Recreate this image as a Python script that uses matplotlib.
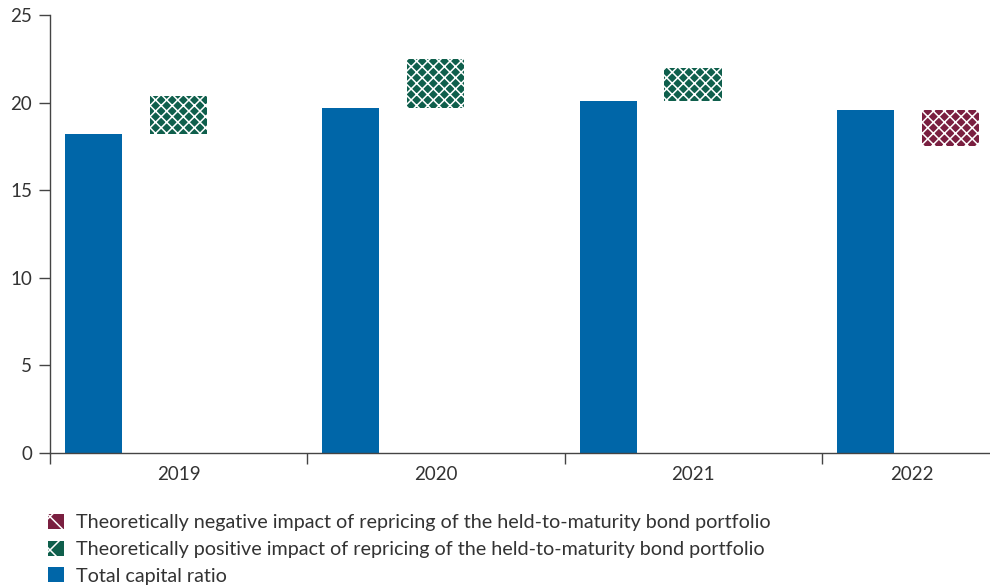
import matplotlib.pyplot as plt
from matplotlib.patches import Patch
import numpy as np

years = ['2019', '2020', '2021', '2022']
total_ratio = [18.2, 19.7, 20.1, 19.6]
positive_impact = [2.2, 2.8, 1.9, 0.0]
negative_impact = [0.0, 0.0, 0.0, 2.1]

blue = '#0066a8'
green = '#0f5f4c'
maroon = '#7a1f40'
text_col = '#333333'

plt.rcParams['font.family'] = ['Lato', 'DejaVu Sans']
plt.rcParams['hatch.linewidth'] = 1.1

fig = plt.figure(figsize=(9.9, 5.88), dpi=100)
ax = fig.add_axes([50 / 990, 1 - 453 / 588, 952 / 990, (453 - 15) / 588])

x = np.arange(len(years))
w = 0.222
ax.bar(x + 0.169, total_ratio, width=w, color=blue, zorder=2)

pos = np.array(positive_impact)
neg = np.array(negative_impact)
tot = np.array(total_ratio)
m = pos > 0
ax.bar(x[m] + 0.499, pos[m], bottom=tot[m], width=w, color=green,
       edgecolor='white', linewidth=0, hatch='xxx', zorder=2)
m = neg > 0
ax.bar(x[m] + 0.499, neg[m], bottom=tot[m] - neg[m], width=w, color=maroon,
       edgecolor='white', linewidth=0, hatch='xxx', zorder=2)

ax.set_xlim(0, 3.70)
ax.set_ylim(0, 25)
ax.set_yticks([0, 5, 10, 15, 20, 25])

# year boundaries as major ticks, year labels on minor ticks
ax.set_xticks([0, 1, 2, 3])
ax.set_xticklabels([])
ax.set_xticks([0.5, 1.5, 2.5, 3.35], minor=True)
ax.set_xticklabels(years, minor=True)
ax.tick_params(axis='x', which='major', length=8, width=1, color='#444444')
ax.tick_params(axis='x', which='minor', length=0, pad=9, labelsize=13.5, labelcolor=text_col)
ax.tick_params(axis='y', length=8, width=1, color='#444444', pad=5, labelsize=13.5, labelcolor=text_col)

for s in ['top', 'right']:
    ax.spines[s].set_visible(False)
for s in ['left', 'bottom']:
    ax.spines[s].set_color('#444444')
    ax.spines[s].set_linewidth(1)

handles = [
    Patch(facecolor=maroon, edgecolor='white', linewidth=0, hatch='x',
          label='Theoretically negative impact of repricing of the held-to-maturity bond portfolio'),
    Patch(facecolor=green, edgecolor='white', linewidth=0, hatch='x',
          label='Theoretically positive impact of repricing of the held-to-maturity bond portfolio'),
    Patch(facecolor=blue, label='Total capital ratio'),
]
leg = fig.legend(handles=handles, loc='upper left', bbox_to_anchor=(48 / 990, 1 - 514 / 588),
                 frameon=False, fontsize=14.2, handlelength=0.8, handleheight=0.8,
                 handletextpad=0.6, labelspacing=0.47, borderpad=0, borderaxespad=0)
for t in leg.get_texts():
    t.set_color(text_col)

fig.savefig('out.png', dpi=100)
